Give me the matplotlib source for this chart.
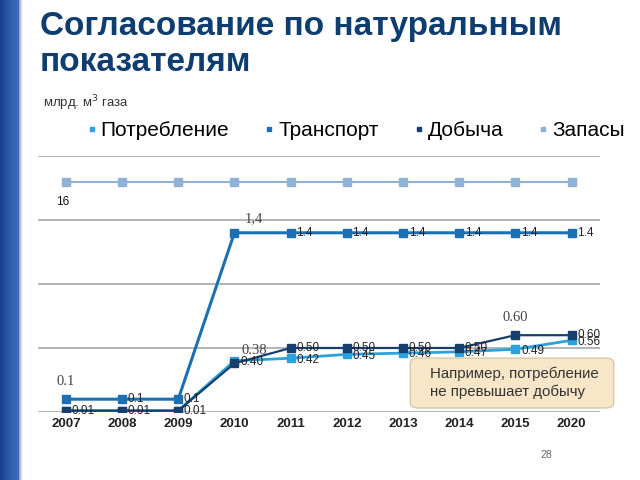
import numpy as np
import matplotlib.pyplot as plt
from matplotlib.patches import FancyBboxPatch
from matplotlib.colors import LinearSegmentedColormap

plt.rcParams["font.family"] = ["Liberation Sans", "DejaVu Sans"]

years = ["2007", "2008", "2009", "2010", "2011", "2012", "2013", "2014", "2015", "2020"]
potreblenie = [0.01, 0.01, 0.01, 0.40, 0.42, 0.45, 0.46, 0.47, 0.49, 0.56]
transport = [0.1, 0.1, 0.1, 1.4, 1.4, 1.4, 1.4, 1.4, 1.4, 1.4]
dobycha = [0.01, 0.01, 0.01, 0.38, 0.50, 0.50, 0.50, 0.50, 0.60, 0.60]
zapasy = [16, 16, 16, 16, 16, 16, 16, 16, 16, 16]

c_potr = "#2aa3dc"
c_tran = "#1b6fb3"
c_dob = "#163f6e"
c_zap = "#8fb2d4"

fig = plt.figure(figsize=(6.4, 4.8), dpi=100)
fig.patch.set_facecolor("white")

# left blue bar with a soft shadow
bar = fig.add_axes([0, 0, 0.029, 1])
cm = LinearSegmentedColormap.from_list("b", ["#1a3a8e", "#2c5cab", "#3d6cb8"])
bar.imshow(np.linspace(0, 1, 50).reshape(1, -1), aspect="auto", cmap=cm, extent=[0, 1, 0, 1])
bar.axis("off")
sh = fig.add_axes([0.029, 0, 0.006, 1])
sh.imshow(np.linspace(0, 1, 20).reshape(1, -1), aspect="auto",
          cmap=LinearSegmentedColormap.from_list("s", ["#a0a0a0", "#ffffff"]), extent=[0, 1, 0, 1])
sh.axis("off")

fig.text(0.062, 0.977, "Согласование по натуральным\nпоказателям", fontsize=24, fontweight="bold",
         color="#0e3d70", va="top", ha="left", linespacing=1.2)
fig.text(0.067, 0.785, "млрд. м$^3$ газа", fontsize=9.5, color="#333333", va="center")

ax = fig.add_axes([0.059, 0.1417, 0.878, 0.5333])
x = np.arange(len(years))

ax.set_xlim(-0.5, len(years) - 0.5)
ax.set_ylim(0, 2.0)
ax.set_yticks([0, 0.5, 1.0, 1.5, 2.0])
ax.grid(axis="y", color="#a8a8a8", lw=1.2)
ax.set_axisbelow(True)
for s in ax.spines.values():
    s.set_visible(False)
ax.tick_params(axis="y", length=0, labelleft=False)
ax.tick_params(axis="x", length=0, pad=4)
ax.set_xticks(x)
ax.set_xticklabels(years, fontsize=9.5, fontweight="bold", color="#222222")

ax2 = ax.twinx()
ax2.set_ylim(0, 16 / 0.898)
ax2.axis("off")

ax2.plot(x, zapasy, color=c_zap, lw=1.5, marker="s", ms=6, label="Запасы")
ax.plot(x, transport, color=c_tran, lw=2.2, marker="s", ms=6, label="Транспорт")
ax.plot(x, potreblenie, color=c_potr, lw=2.0, marker="s", ms=6, label="Потребление")
ax.plot(x, dobycha, color=c_dob, lw=1.6, marker="s", ms=6, label="Добыча")

lab = dict(fontsize=8.5, color="#222222", va="center", ha="left")
top = dict(fontsize=10.5, color="#444444", family="Liberation Serif", ha="center", va="bottom")

ax2.text(x[0] - 0.05, zapasy[0] - 1.0, "16", fontsize=8.5, color="#111111", ha="center", va="top")

for i, v in enumerate(transport):
    if i == 0:
        ax.text(x[i], v + 0.09, "0.1", **top)
    elif i == 3:
        ax.text(x[i] + 0.35, v + 0.06, "1,4", **top)
    else:
        ax.text(x[i] + 0.1, v, f"{v:.1f}", **lab)

for i, v in enumerate(dobycha):
    if i == 3:
        ax.text(x[i] + 0.35, v + 0.05, "0.38", **top)
    elif i == 8:
        ax.text(x[i], v + 0.09, "0.60", **top)
    else:
        ax.text(x[i] + 0.1, v, f"{v:.2f}", **lab)

for i, v in enumerate(potreblenie):
    if i < 3:
        continue
    ax.text(x[i] + 0.1, v - 0.01, f"{v:.2f}", **lab)

box = FancyBboxPatch((0.641, 0.15), 0.318, 0.104, boxstyle="round,pad=0,rounding_size=0.012",
                     transform=fig.transFigure, facecolor="#f7e7c8", edgecolor="#d8c8a6", lw=1)
fig.patches.append(box)
fig.text(0.672, 0.202, "Например, потребление\nне превышает добычу", fontsize=10.8, color="#333333",
         va="center", ha="left", linespacing=1.3)

h1, l1 = ax.get_legend_handles_labels()
h2, l2 = ax2.get_legend_handles_labels()
hd = dict(zip(l1 + l2, h1 + h2))
order = ["Потребление", "Транспорт", "Добыча", "Запасы"]
leg = fig.legend([hd[k] for k in order], order, loc="center", bbox_to_anchor=(0.557, 0.728), ncol=4,
                 frameon=False, fontsize=15, handlelength=0.35, handletextpad=0.25, columnspacing=1.75,
                 markerscale=0.6)
for h in leg.legend_handles:
    h.set_linestyle("none")

fig.text(0.845, 0.052, "28", fontsize=7.5, color="#666666", ha="left", va="center")

fig.savefig("out.png", dpi=100)
